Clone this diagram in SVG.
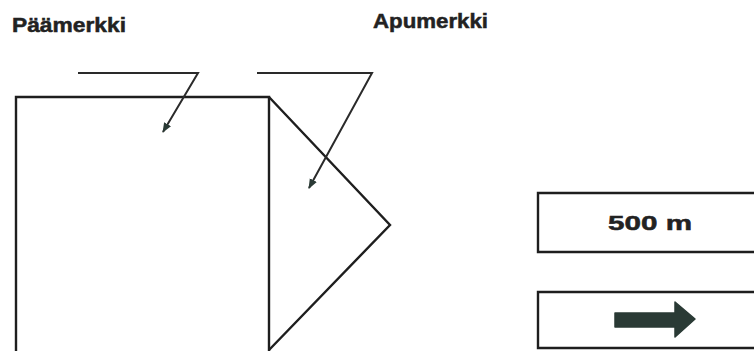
<svg xmlns="http://www.w3.org/2000/svg" width="754" height="351" viewBox="0 0 754 351">
<defs>
<style>
.ln{fill:none;stroke:#1e1e1e;stroke-width:2.4;stroke-linejoin:miter}
.ld{fill:none;stroke:#2a2a2a;stroke-width:2}
.t{font-family:"Liberation Sans",Arial,sans-serif;font-weight:bold;font-size:21px;fill:#222;stroke:#222;stroke-width:0.5}
</style>
<marker id="ah" viewBox="0 0 10 10" refX="9" refY="5" markerWidth="5" markerHeight="5" orient="auto" markerUnits="strokeWidth">
<path d="M0,1 L10,5 L0,9 Z" fill="#2a3a35"/>
</marker>
</defs>
<rect width="754" height="351" fill="#ffffff"/>
<g id="label-paamerkki"><text class="t" x="12" y="32" textLength="114" lengthAdjust="spacingAndGlyphs">Päämerkki</text></g>
<g id="label-apumerkki"><text class="t" x="373" y="28" textLength="115" lengthAdjust="spacingAndGlyphs">Apumerkki</text></g>
<g id="paamerkki"><path class="ln" d="M16,352 L16,97 L269,97 L269,352"/></g>
<g id="apumerkki"><path class="ln" d="M269,97 L390,225 L269,350"/></g>
<g id="sign-500m"><path class="ln" d="M756,193 L538,193 L538,252 L756,252"/><text class="t" x="608" y="230" textLength="84" lengthAdjust="spacingAndGlyphs">500 m</text></g>
<g id="sign-arrow"><path class="ln" d="M756,292 L538,292 L538,348 L756,348"/><path d="M615,313 L675,313 L675,302 L695,319 L675,337 L675,327 L615,327 Z" fill="#2a3a35" stroke="#2a3a35" stroke-width="1.5" stroke-linejoin="round"/></g>
<g id="connectors">
<path class="ld" d="M78,73 L198,73 L163,132" marker-end="url(#ah)"/>
<path class="ld" d="M257,73 L372,73 L309,188" marker-end="url(#ah)"/>
</g>
</svg>
